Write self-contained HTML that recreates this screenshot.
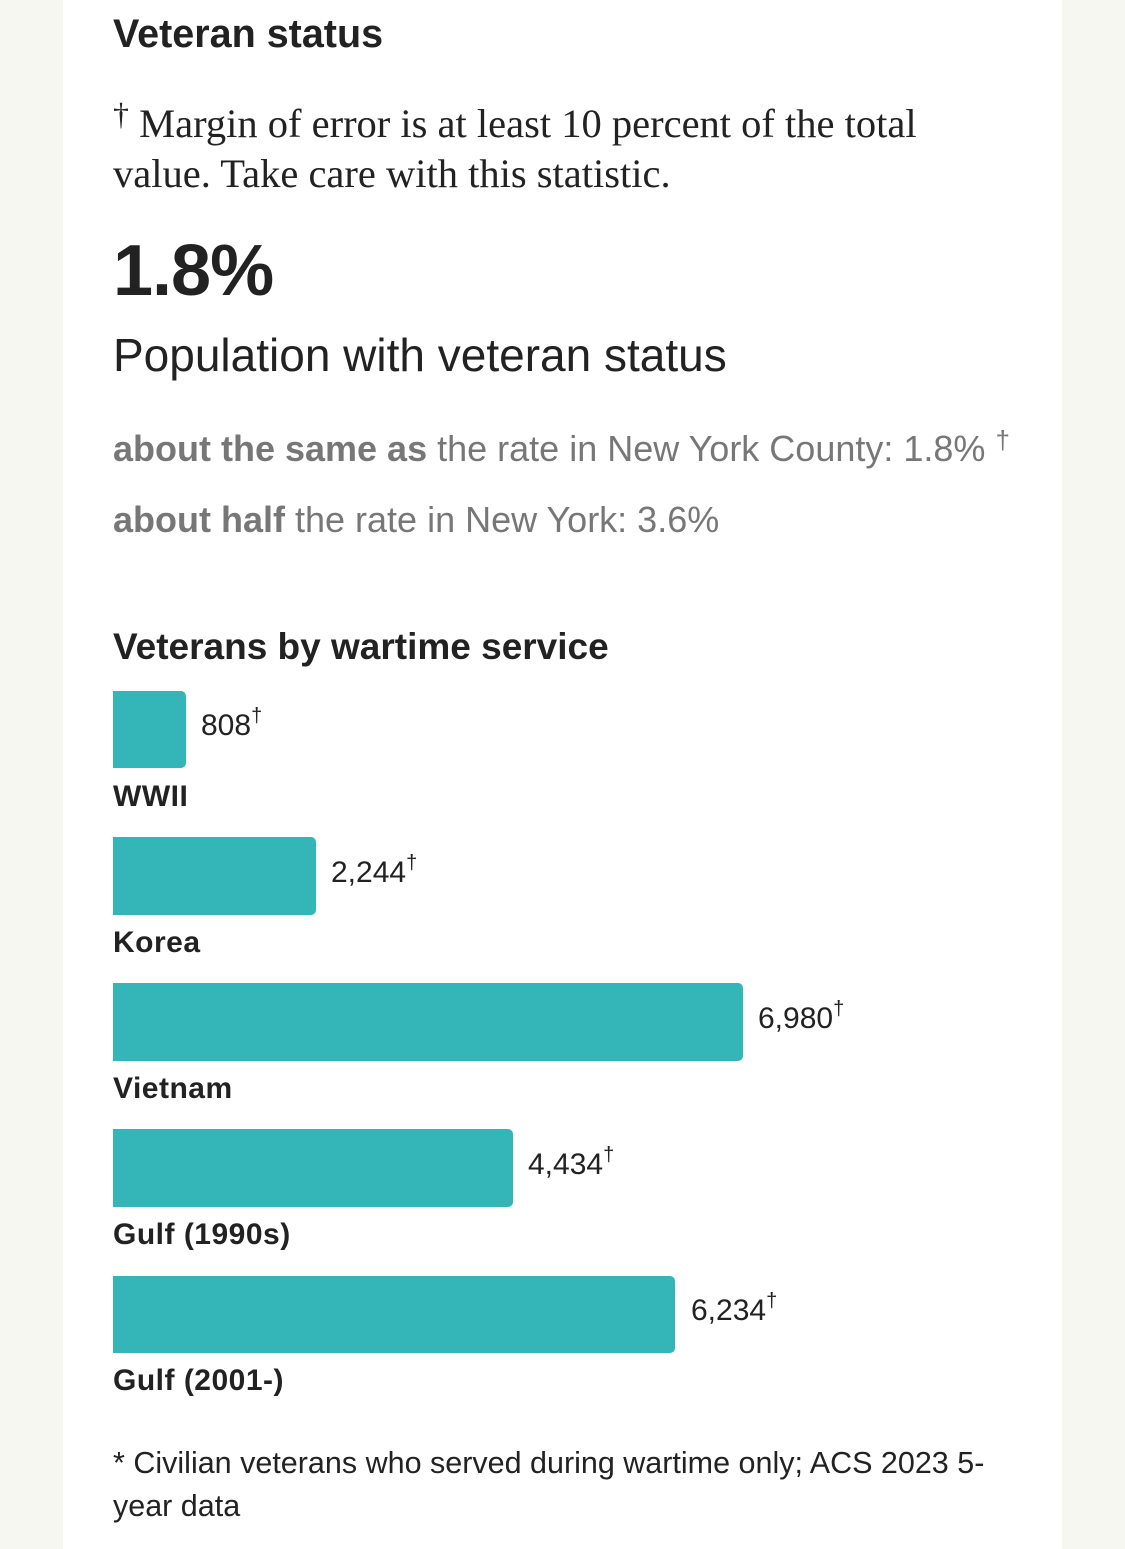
<!DOCTYPE html>
<html><head><style>
body{margin:0;width:1125px;height:1549px;background:#f7f7f2;position:relative;overflow:hidden;font-family:"Liberation Sans",sans-serif;color:#222}
.panel{position:absolute;left:63px;top:0;width:999px;height:1549px;background:#fff}
.t{position:absolute;left:113px;white-space:nowrap}
.bar{position:absolute;left:113px;background:#34b5b7;border-radius:0 5px 5px 0}
.v{position:absolute;font-size:30px;color:#222;white-space:nowrap}
.v sup{font-size:20px;position:relative;top:-4px;vertical-align:top}
.lab{position:absolute;left:113px;font-size:30px;font-weight:bold;color:#222;letter-spacing:0.5px}
</style></head><body>
<div class="panel"></div>
<div class="t" style="top:12px;font-size:39.5px;font-weight:bold">Veteran status</div>
<div class="t" style="top:100px;font-family:'Liberation Serif',serif;font-size:40.5px;line-height:48px;color:#222"><span style="position:relative;top:-12px;font-size:32px">†</span> Margin of error is at least 10 percent of the total<br>value. Take care with this statistic.</div>
<div class="t" style="top:230px;font-size:72px;font-weight:bold;letter-spacing:-1px">1.8%</div>
<div class="t" style="top:328px;font-size:46px">Population with veteran status</div>
<div class="t" style="top:428px;font-size:36px;color:#777"><b>about the same as</b> the rate in New York County: 1.8% <span style="position:relative;top:-12px;font-size:26px">†</span></div>
<div class="t" style="top:499px;font-size:36px;color:#777"><b>about half</b> the rate in New York: 3.6%</div>
<div class="t" style="top:626px;font-size:37px;font-weight:bold">Veterans by wartime service</div>

<div class="bar" style="top:691px;width:73px;height:77px"></div>
<div class="v" style="left:201px;top:709px">808<sup>†</sup></div>
<div class="lab" style="top:780px">WWII</div>

<div class="bar" style="top:837px;width:203px;height:78px"></div>
<div class="v" style="left:331px;top:856px">2,244<sup>†</sup></div>
<div class="lab" style="top:926px">Korea</div>

<div class="bar" style="top:983px;width:630px;height:78px"></div>
<div class="v" style="left:758px;top:1002px">6,980<sup>†</sup></div>
<div class="lab" style="top:1072px">Vietnam</div>

<div class="bar" style="top:1129px;width:400px;height:78px"></div>
<div class="v" style="left:528px;top:1148px">4,434<sup>†</sup></div>
<div class="lab" style="top:1218px">Gulf (1990s)</div>

<div class="bar" style="top:1276px;width:562px;height:77px"></div>
<div class="v" style="left:691px;top:1294px">6,234<sup>†</sup></div>
<div class="lab" style="top:1364px">Gulf (2001-)</div>

<div class="t" style="top:1442px;font-size:30.5px;line-height:43px">* Civilian veterans who served during wartime only; ACS 2023 5-<br>year data</div>
</body></html>
